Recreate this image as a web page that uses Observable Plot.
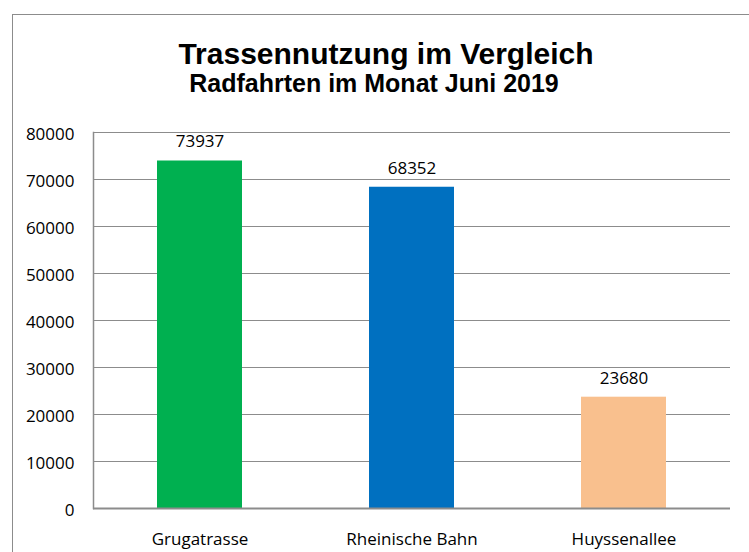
<!DOCTYPE html>
<html><head><meta charset="utf-8">
<script src="https://cdn.jsdelivr.net/npm/d3@7"></script>
<script src="https://cdn.jsdelivr.net/npm/@observablehq/plot@0.6"></script>
<style>
html,body{margin:0;padding:0;background:#fff;overflow:hidden;}
body{width:749px;height:552px;position:relative;font-family:"Liberation Sans",Arial,sans-serif;}
#frame{position:absolute;left:12px;top:14px;width:800px;height:600px;border:1.5px solid #8c8c8c;box-sizing:border-box;}
#title{position:absolute;left:0;width:772px;top:38.6px;text-align:center;font-weight:bold;font-size:30px;line-height:30px;color:#000;white-space:nowrap;}
#subtitle{position:absolute;left:0;width:748px;top:70.8px;text-align:center;font-weight:bold;font-size:25px;line-height:25px;color:#000;white-space:nowrap;}
#chart{position:absolute;left:0;top:120px;}
</style>
</head><body>
<div id="frame"></div>
<div id="title">Trassennutzung im Vergleich</div>
<div id="subtitle">Radfahrten im Monat Juni 2019</div>
<div id="chart"></div>
<script>
const categories = ["Grugatrasse", "Rheinische Bahn", "Huyssenallee"];
const values = [73937, 68352, 23680];
const colors = ["#00b050", "#0070c0", "#f9c08e"];
const yTicks = [0, 10000, 20000, 30000, 40000, 50000, 60000, 70000, 80000];

const data = categories.map((c, i) => ({c, v: values[i]}));

const chart = Plot.plot({
  width: 749,
  height: 432,
  marginTop: 12,
  marginBottom: 44,
  marginLeft: 93,
  marginRight: 19,
  style: {fontFamily: "'Open Sans', 'Liberation Sans', Arial, sans-serif", fontSize: "17px", color: "#000", background: "transparent"},
  x: {domain: categories, paddingInner: 0.6, paddingOuter: 0.3, label: null},
  y: {domain: [0, 80000], label: null},
  color: {domain: categories, range: colors},
  marks: [
    Plot.gridY(yTicks, {stroke: "#8c8c8c", strokeOpacity: 1, strokeWidth: 1}),
    Plot.barY(data, {x: "c", y: "v", fill: "c"}),
    Plot.frame({anchor: "left", stroke: "#8c8c8c", strokeWidth: 1.5}),
    Plot.ruleY([0], {stroke: "#8c8c8c", strokeWidth: 2}),
    Plot.text(data, {x: "c", y: "v", text: d => String(d.v), dy: -19, fontSize: 17, fill: "#000"}),
    Plot.axisY(yTicks, {tickSize: 0, tickPadding: 19, tickFormat: d => String(d), dy: 2, fontSize: 17, label: null}),
    Plot.axisX({tickSize: 0, tickPadding: 24, fontSize: 17, label: null})
  ]
});
document.getElementById("chart").appendChild(chart);
</script>
</body></html>
